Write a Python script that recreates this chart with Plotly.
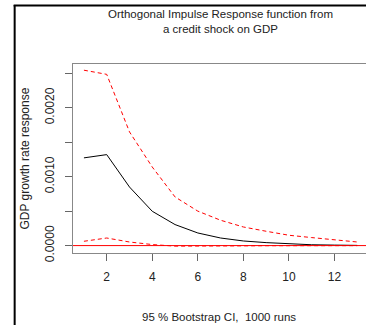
import plotly.graph_objects as go

steps = [1, 2, 3, 4, 5, 6, 7, 8, 9, 10, 11, 12, 13]
irf = [0.001273, 0.00132, 0.00085, 0.000498, 0.000305, 0.000183, 0.00011,
       0.000067, 0.000043, 0.000023, 0.000012, 0.000007, 0.000003]
upper = [0.002545, 0.002485, 0.00165, 0.00114, 0.000706, 0.0005, 0.000368,
         0.00027, 0.000208, 0.00015, 0.000116, 0.000087, 0.000052]
lower = [0.0000625, 0.00011, 0.000052, 0.000015, -0.000008, -0.00001, -0.000008,
         -0.000004, -0.000002, -0.000002, -0.000001, -0.000001, -0.000001]

xticks = [2, 4, 6, 8, 10, 12]
yticks = [0.0, 0.0005, 0.0010, 0.0015, 0.0020, 0.0025]
ylabels = ["0.0000", "", "0.0010", "", "0.0020", ""]

FONT = "Liberation Sans, Arial, sans-serif"
L, R, T, B = 72.7, 366.0, 64.0, 252.7
W, H = 366, 325
pw, ph = R - L, B - T

def px(x):
    return (x - L) / pw

def py(y):
    return (B - y) / ph

fig = go.Figure()
fig.add_trace(go.Scatter(x=steps, y=upper, mode="lines",
                         line=dict(color="red", width=1, dash="4px,3px")))
fig.add_trace(go.Scatter(x=steps, y=lower, mode="lines",
                         line=dict(color="red", width=1, dash="4px,3px")))
fig.add_trace(go.Scatter(x=steps, y=irf, mode="lines",
                         line=dict(color="black", width=1)))

shapes = [
    dict(type="line", xref="paper", yref="y", x0=0, x1=1, y0=0, y1=0,
         line=dict(color="red", width=1), layer="above"),
    dict(type="line", xref="paper", yref="paper", x0=px(14.3), x1=px(14.3),
         y0=py(5), y1=py(326), line=dict(color="black", width=2)),
    dict(type="line", xref="paper", yref="paper", x0=px(13.3), x1=1.01,
         y0=py(5.5), y1=py(5.5), line=dict(color="black", width=2)),
]

annotations = [
    dict(text="Orthogonal Impulse Response function from<br>a credit shock on GDP",
         xref="paper", yref="paper", x=px(220), y=py(21.5), showarrow=False,
         xanchor="center", yanchor="middle",
         font=dict(family=FONT, size=11.5, color="#222")),
    dict(text="95 % Bootstrap CI,  1000 runs", xref="paper", yref="paper",
         x=px(219), y=py(317), showarrow=False,
         xanchor="center", yanchor="middle",
         font=dict(family=FONT, size=11.5, color="#222")),
    dict(text="GDP growth rate response", xref="paper", yref="paper",
         x=px(25), y=py(158), showarrow=False, textangle=-90,
         xanchor="center", yanchor="middle",
         font=dict(family=FONT, size=12, color="#222")),
]

fig.update_layout(
    width=W, height=H,
    margin=dict(l=L, r=W - R, t=T, b=H - B, pad=0),
    paper_bgcolor="white", plot_bgcolor="white",
    showlegend=False,
    shapes=shapes, annotations=annotations,
    xaxis=dict(range=[0.52, 0.52 + pw / 22.8], tickvals=xticks,
               ticks="outside", ticklen=7, tickcolor="#666", tickwidth=1,
               showline=True, linecolor="#888", linewidth=1, mirror=True,
               showgrid=False, zeroline=False, ticklabelstandoff=6,
               tickfont=dict(family=FONT, size=12, color="#222")),
    yaxis=dict(range=[-0.0001076, 0.002635], tickvals=yticks, ticktext=ylabels,
               ticks="outside", ticklen=7, tickcolor="#666", tickwidth=1,
               showline=True, linecolor="#888", linewidth=1,
               showgrid=False, zeroline=False, tickangle=-90,
               ticklabelstandoff=6,
               tickfont=dict(family=FONT, size=12, color="#222")),
)

fig.write_html("out.html")
